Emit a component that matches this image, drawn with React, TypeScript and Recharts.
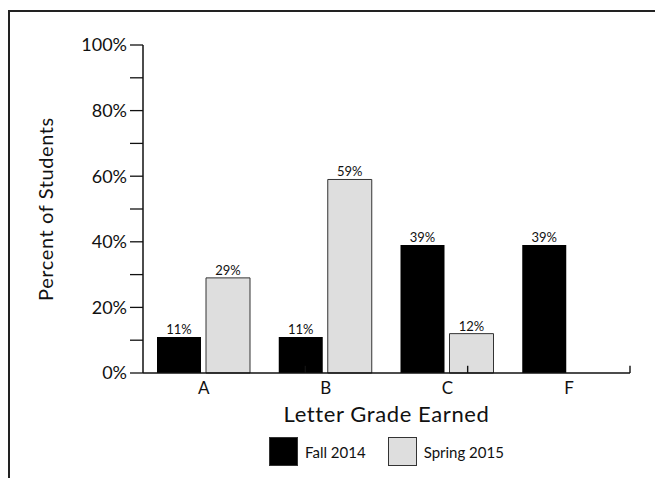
import { BarChart, Bar, XAxis, YAxis, Legend, LabelList, ReferenceLine } from "recharts";

const grades = ["A", "B", "C", "F"];
const fall2014 = [11, 11, 39, 39];
const spring2015 = [29, 59, 12, 0];
const yTicks = [0, 10, 20, 30, 40, 50, 60, 70, 80, 90, 100];
// band edges on a hidden 0..4 axis, for the small upward ticks
const bandEdges = [1, 2, 3, 4];

const data = grades.map((g, i) => ({
  grade: g,
  fall: fall2014[i],
  spring: spring2015[i],
}));

const FONT = "Lato, 'Open Sans', sans-serif";

function LegendBox() {
  const items = [
    { name: "Fall 2014", fill: "#000" },
    { name: "Spring 2015", fill: "#dedede" },
  ];
  return (
    <div style={{ display: "flex", justifyContent: "center", alignItems: "center", gap: 22 }}>
      {items.map((it) => (
        <div key={it.name} style={{ display: "flex", alignItems: "center" }}>
          <div
            style={{
              width: 27,
              height: 27,
              background: it.fill,
              border: "1px solid #333",
              marginRight: 7,
            }}
          />
          <span style={{ fontSize: 15, color: "#111", fontFamily: FONT }}>{it.name}</span>
        </div>
      ))}
    </div>
  );
}

export default function App() {
  return (
    <div
      style={{
        marginTop: 2,
        width: 653,
        height: 466,
        borderTop: "2px solid #222",
        borderLeft: "2px solid #222",
        background: "#fff",
        fontFamily: FONT,
      }}
    >
      <BarChart
        width={653}
        height={466}
        data={data}
        margin={{ top: 33, right: 33, left: 0, bottom: 0 }}
        barSize={44}
        barGap={5}
      >
        <XAxis
          dataKey="grade"
          height={105}
          tickLine={false}
          tickSize={12}
          tickMargin={0}
          axisLine={{ stroke: "#111", strokeWidth: 1.5 }}
          tick={{ fontSize: 17, fill: "#111", fontFamily: FONT, dy: -3 }}
          interval={0}
          label={{
            value: "Letter Grade Earned",
            position: "insideTop",
            offset: 33,
            fontSize: 22,
            letterSpacing: 0.6,
            fill: "#111",
            fontFamily: FONT,
          }}
        />
        <XAxis xAxisId="edge" type="number" domain={[0, 4]} allowDataOverflow hide />
        <YAxis
          width={133}
          domain={[0, 100]}
          ticks={yTicks}
          interval={0}
          tickSize={13}
          tickMargin={3}
          tickLine={{ stroke: "#111", strokeWidth: 1.3 }}
          axisLine={{ stroke: "#111", strokeWidth: 1.5 }}
          tick={{ fontSize: 18, fill: "#111", fontFamily: FONT }}
          tickFormatter={(v: number) => (v % 20 === 0 ? `${v}%` : "")}
          label={{
            value: "Percent of Students",
            angle: -90,
            position: "center",
            dx: -31,
            fontSize: 20,
            letterSpacing: 0.6,
            fill: "#111",
            fontFamily: FONT,
          }}
        />
        <Legend
          verticalAlign="middle"
          align="center"
          wrapperStyle={{ top: 425, left: 133, width: 487 }}
          content={() => <LegendBox />}
        />
        <Bar dataKey="fall" name="Fall 2014" fill="#000" isAnimationActive={false}>
          <LabelList
            dataKey="fall"
            position="top"
            offset={3}
            fontSize={13}
            fill="#111"
            fontFamily={FONT}
            formatter={(v: any) => (v ? `${v}%` : "")}
          />
        </Bar>
        <Bar
          dataKey="spring"
          name="Spring 2015"
          fill="#dedede"
          stroke="#333"
          strokeWidth={1}
          isAnimationActive={false}
        >
          <LabelList
            dataKey="spring"
            position="top"
            offset={3}
            fontSize={13}
            fill="#111"
            fontFamily={FONT}
            formatter={(v: any) => (v ? `${v}%` : "")}
          />
        </Bar>
        {bandEdges.map((e) => (
          <ReferenceLine
            key={e}
            xAxisId="edge"
            segment={[
              { x: e, y: 0 },
              { x: e, y: 2.2 },
            ]}
            stroke="#111"
            strokeWidth={1.4}
            ifOverflow="visible"
          />
        ))}
      </BarChart>
    </div>
  );
}
